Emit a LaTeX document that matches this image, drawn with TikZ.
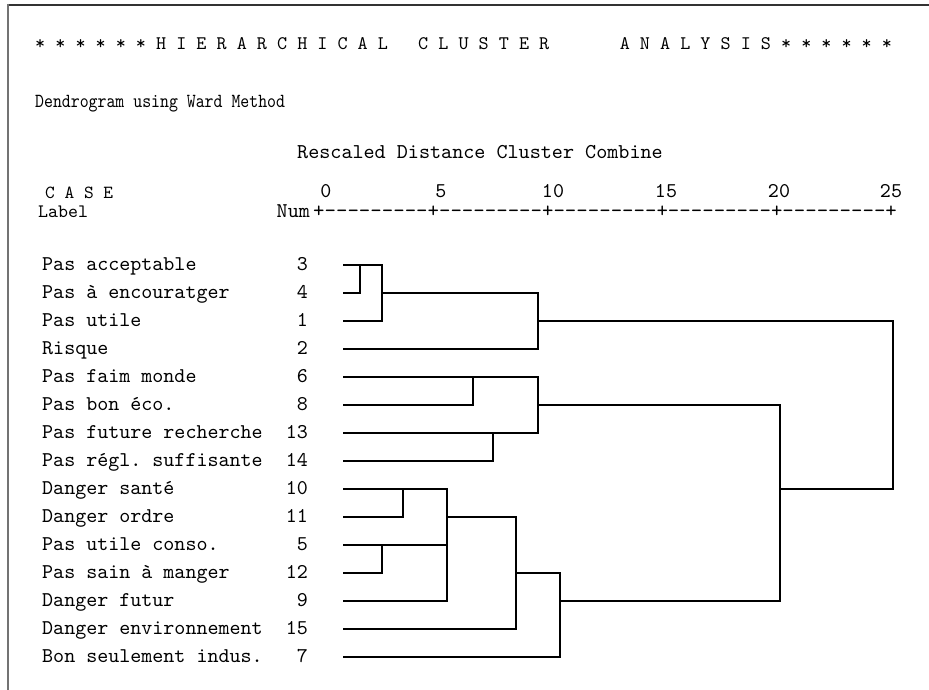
\documentclass[tikz,border=0pt]{standalone}
\usepackage{fontspec}
\setmonofont{lmmono10-regular.otf}
\newcommand\spssfont[1]{\ttfamily\fontsize{#1}{#1}\selectfont\spaceskip=0.525em\relax}

\tikzset{
  txt/.style={inner sep=0pt,font=\spssfont{21}},
  lab/.style={txt,anchor=base west},
  num/.style={txt,anchor=base east},
  tree/.style={line width=1.4pt},
}

\begin{document}
\begin{tikzpicture}[x=1pt,y=-1pt]
  \fill[white] (0,0) rectangle (929,690);
  \useasboundingbox (0,0) rectangle (929,690);
  \draw[black!80,line width=2pt] (7,5) -- (929,5);
  \draw[black!55,line width=2pt] (8,4) -- (8,690);
  % headings
  \node[lab,font=\spssfont{19.2}] (title) at (35,50)
    {* * * * * * H I E R A R C H I C A L~~~C L U S T E R~~~~~~~A N A L Y S I S * * * * * *};
  \node[lab,font=\spssfont{20},xscale=0.85] (method) at (35,108) {Dendrogram using Ward Method};
  \node[lab,font=\spssfont{21.1}] (rescaled) at (297,158) {Rescaled Distance Cluster Combine};
  \node[lab,font=\spssfont{18.5}] (case) at (45,198) {C A S E};
  \node[lab,font=\spssfont{19}] (label) at (38,217) {Label};
  \node[num] (numhd) at (310,217) {Num};
  \node[lab,font=\spssfont{21.8}] (axis) at (313,217)
    {+---------+---------+---------+---------+---------+};
  \foreach \v/\x in {0/326,5/441,10/553,15/666,20/779,25/891}
    \node[txt,anchor=base,text depth=0pt] (t\v) at (\x,197) {\v};
  % cases
  \foreach \n/\lab [count=\i from 0] in {3/Pas acceptable,4/Pas à encouratger,
      1/Pas utile,2/Risque,6/Pas faim monde,8/Pas bon éco.,
      13/Pas future recherche,14/Pas régl. suffisante,10/Danger santé,
      11/Danger ordre,5/Pas utile conso.,12/Pas sain à manger,9/Danger futur,
      15/Danger environnement,7/Bon seulement indus.}
  {
    \node[lab] (l\n) at (42,270+28*\i) {\lab};
    \node[num] (n\n) at (308,270+28*\i) {\n};
    \coordinate (c\n) at (343,265+28*\i);
  }
  % tree
  \draw[tree] (c4) -| ++(17,-28);
  \draw[tree] (c3) -- ++(39,0) |- (c1);
  \draw[tree] ([xshift=39pt]c4) -- ++(156,0) |- (c2);
  \draw[tree] ([xshift=195pt]c1) -- ++(355,0) |- ([xshift=437pt]c10);
  \draw[tree] (c8) -| ++(130,-28);
  \draw[tree] (c14) -| ++(150,-28);
  \draw[tree] (c6) -- ++(195,0) |- (c13);
  \draw[tree] ([xshift=195pt]c8) -- ++(242,0) |- ([xshift=217pt]c9);
  \draw[tree] (c11) -| ++(60,-28);
  \draw[tree] (c12) -| ++(39,-28);
  \draw[tree] (c5) -- ++(104,0);
  \draw[tree] (c10) -- ++(104,0) |- (c9);
  \draw[tree] ([xshift=104pt]c11) -- ++(69,0) |- (c15);
  \draw[tree] ([xshift=173pt]c12) -- ++(44,0) |- (c7);
\end{tikzpicture}
\end{document}
